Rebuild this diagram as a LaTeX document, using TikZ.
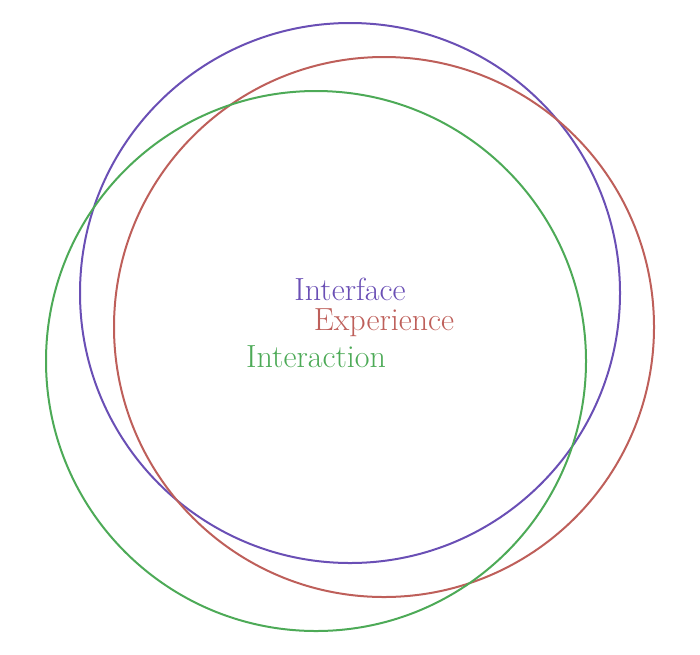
\documentclass[tikz,border=0pt]{standalone}
\usepackage{tikz}
\definecolor{facepurple}{HTML}{6A4FB5}
\definecolor{experred}{HTML}{BE5F5A}
\definecolor{actgreen}{HTML}{4DAA57}
\tikzset{
  ring/.style = {circle, draw, line width = 2pt, minimum size = 540pt, inner sep = 0pt},
  word/.style = {font = \fontsize{32}{36}\selectfont, inner sep = 0pt}
}

\begin{document}
\begin{tikzpicture} [x = 1pt, y = -1pt]
\useasboundingbox (0, 0) rectangle (700, 654);
\node[ring, facepurple] (interfacering) at (350, 293){};
\node[ring, experred] (experiencering) at (384, 327){};
\node[ring, actgreen] (interactionring) at (316, 361){};
\node[word, facepurple] (interface) at (350, 289){Interface};
\node[word, experred] (experience) at (384, 323){Experience};
\node[word, actgreen] (interaction) at (316, 357){Interaction};
\end{tikzpicture}
\end{document}
